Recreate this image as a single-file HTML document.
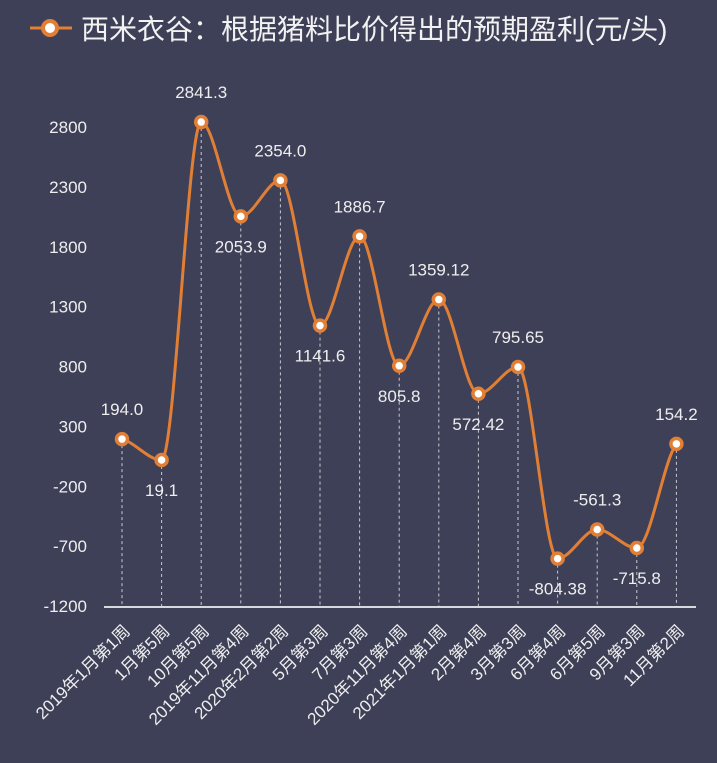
<!DOCTYPE html>
<html><head><meta charset="utf-8"><style>
html,body{margin:0;padding:0;background:#3e4057;}
svg{display:block;font-family:"Liberation Sans","Noto Sans CJK SC",sans-serif;}
</style></head><body>
<svg id="s" width="717" height="763" xmlns="http://www.w3.org/2000/svg">
<rect width="717" height="763" fill="#3e4057"/>
<line x1="30" y1="28" x2="72" y2="28" stroke="#e07f35" stroke-width="3"/>
<circle cx="50" cy="28" r="7" fill="#fff" stroke="#e07f35" stroke-width="4"/>
<text x="81" y="39" font-size="28" fill="#f2f2f2">西米衣谷：根据猪料比价得出的预期盈利(元/头)</text>
<g id="g"></g>
</svg>
<script>
var vals=[194.0,19.1,2841.3,2053.9,2354.0,1141.6,1886.7,805.8,1359.12,572.42,795.65,-804.38,-561.3,-715.8,154.2];
var labs=["194.0","19.1","2841.3","2053.9","2354.0","1141.6","1886.7","805.8","1359.12","572.42","795.65","-804.38","-561.3","-715.8","154.2"];
var up=[1,0,1,0,1,0,1,0,1,0,1,0,1,0,1];
var cats=["2019年1月第1周","1月第5周","10月第5周","2019年11月第4周","2020年2月第2周","5月第3周","7月第3周","2020年11月第4周","2021年1月第1周","2月第4周","3月第3周","6月第4周","6月第5周","9月第3周","11月第2周"];
function Y(v){return 606-(v+1200)*0.11975;}
function X(i){return 122+i*39.6;}
var h='';
for(var t=-1200;t<=2800;t+=500){h+='<text x="87" y="'+(Y(t)+6)+'" font-size="17" fill="#eee" text-anchor="end">'+t+'</text>';}
h+='<line x1="104" y1="607" x2="696" y2="607" stroke="#d8d8e0" stroke-width="2"/>';
var P=vals.map(function(v,i){return [X(i),Y(v)];});
for(var i=0;i<P.length;i++){
 h+='<line x1="'+P[i][0]+'" y1="'+P[i][1]+'" x2="'+P[i][0]+'" y2="606" stroke="#c8c8d2" stroke-width="1" stroke-dasharray="3,3"/>';
}
// monotone-ish: slope zero at local extrema
var m=P.map(function(p,i){
 if(i==0) return (P[1][1]-P[0][1])/(P[1][0]-P[0][0])*0.5;
 if(i==P.length-1) return (P[i][1]-P[i-1][1])/(P[i][0]-P[i-1][0])*0.5;
 var a=(P[i][1]-P[i-1][1]),b=(P[i+1][1]-P[i][1]);
 if(a*b<=0) return 0;
 return (a+b)/2/39.6;
});
var d='M'+P[0][0]+','+P[0][1];
for(var i=0;i<P.length-1;i++){
 var dx=(P[i+1][0]-P[i][0])/3;
 d+=' C'+(P[i][0]+dx)+','+(P[i][1]+m[i]*dx)+' '+(P[i+1][0]-dx)+','+(P[i+1][1]-m[i+1]*dx)+' '+P[i+1][0]+','+P[i+1][1];
}
h+='<path d="'+d+'" fill="none" stroke="#e07f35" stroke-width="3"/>';
for(var i=0;i<P.length;i++){
 h+='<circle cx="'+P[i][0]+'" cy="'+P[i][1]+'" r="5.5" fill="#fff" stroke="#e07f35" stroke-width="3.5"/>';
 var ly=up[i]?P[i][1]-24:P[i][1]+36;
 h+='<text x="'+P[i][0]+'" y="'+ly+'" font-size="17" fill="#eee" text-anchor="middle">'+labs[i]+'</text>';
 h+='<text transform="translate('+(P[i][0]+9)+',632) rotate(-45)" font-size="17" fill="#eee" text-anchor="end">'+cats[i]+'</text>';
}
document.getElementById('g').innerHTML=h;
</script>
</body></html>
